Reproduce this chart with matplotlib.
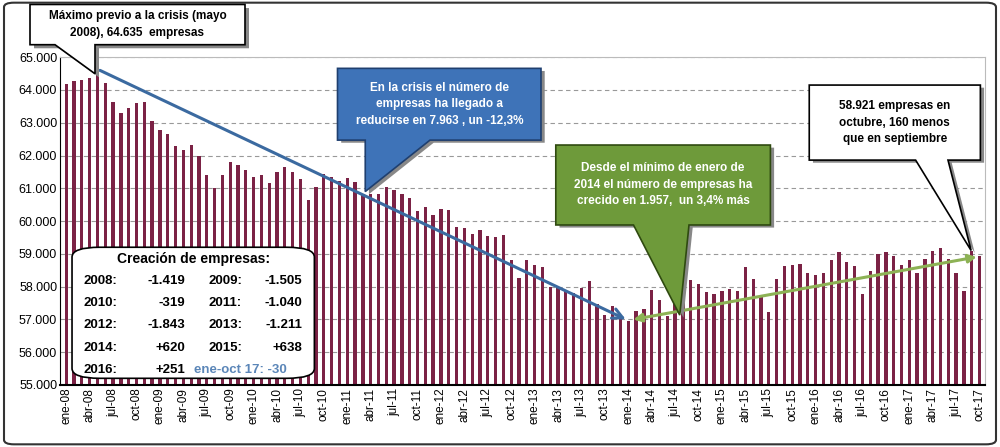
import matplotlib
matplotlib.use("Agg")
import matplotlib.pyplot as plt
from matplotlib.patches import Polygon, FancyBboxPatch
import numpy as np

plt.rcParams["font.family"] = "Liberation Sans"

months = ["ene","feb","mar","abr","may","jun","jul","ago","sep","oct","nov","dic"]
years = list(range(2008, 2018))
labels = [f"{m}-{str(y)[2:]}" for y in years for m in months][:118]

v2008 = [64180,64280,64290,64380,64635,64200,63620,63300,63460,63590,63620,63060]
v2009 = [62790,62660,62290,62180,62330,61990,61390,61010,61400,61800,61720,61555]
v2010 = [61340,61390,61150,61490,61640,61490,61280,60640,61050,61440,61340,61236]
v2011 = [61300,61180,60840,60830,60820,61050,60960,60840,60710,60300,60440,60196]
v2012 = [60380,60330,59830,59790,59610,59730,59540,59500,59560,58800,58250,58800]
v2013 = [58650,58600,57990,57950,57900,57800,57950,58180,57470,57140,57400,57142]
v2014 = [56964,57240,57330,57890,57580,57090,57780,57870,58210,58070,57820,57762]
v2015 = [57880,57930,57870,58590,58240,57680,57210,58240,58620,58660,58700,58400]
v2016 = [58340,58400,58820,59060,58740,58620,57770,58470,59000,59040,58920,58651]
v2017 = [58820,58420,58830,59100,59180,58850,58420,57860,59081,58921]
values = v2008+v2009+v2010+v2011+v2012+v2013+v2014+v2015+v2016+v2017

fig = plt.figure(figsize=(10,4.47), dpi=100)
ax = fig.add_axes([0.06,0.139,0.925,0.733])
x = np.arange(len(values))
ax.bar(x, values, width=0.42, color="#7B2245", zorder=2)
ax.set_ylim(55000,65000)
ax.set_xlim(-0.8, len(values)-0.3)
ax.set_yticks(range(55000,65001,1000))
ax.set_yticklabels([f"{t//1000}.000" for t in range(55000,65001,1000)], fontsize=9)
ax.set_xticks(x[::3])
ax.set_xticklabels(labels[::3], rotation=90, fontsize=8.5)
ax.yaxis.grid(True, linestyle=(0,(4,3)), color="#999999", lw=0.8, zorder=0)
for s in ["top","right"]:
    ax.spines[s].set_color("#bbbbbb")
ax.spines["bottom"].set_linewidth(1.5)
ax.tick_params(length=0, pad=2)

ax.annotate("", xy=(72,56964), xytext=(4,64635),
            arrowprops=dict(arrowstyle="->", color="#3B6AA0", lw=2.2, mutation_scale=18), zorder=5)
ax.annotate("", xy=(117,58921), xytext=(72.3,56980),
            arrowprops=dict(arrowstyle="<|-|>", color="#8DB255", lw=2.2, mutation_scale=12), zorder=5)

def callout(x0,x1,y0,y1,a,b,tip,fc,ec,text,tc,trans,fs=8.5):
    verts=[(x0,y1),(x1,y1),(x1,y0),(b,y0),tip,(a,y0),(x0,y0)]
    sh=[(vx+0.004,vy-0.008) for vx,vy in verts]
    fig.add_artist(Polygon(sh, closed=True, fc="#888888", ec="none", transform=trans, zorder=6, clip_on=False))
    fig.add_artist(Polygon(verts, closed=True, fc=fc, ec=ec, lw=1.2, transform=trans, zorder=7, clip_on=False))
    fig.text((x0+x1)/2,(y0+y1)/2,text,ha="center",va="center",color=tc,fontsize=fs,
             fontweight="bold",transform=trans,zorder=8,linespacing=1.5)

T = ax.transAxes
callout(0.30,0.52,0.747,0.966,0.33,0.40,(0.33,0.59),"#3E73B8","#1F3F6F",
        "En la crisis el número de\nempresas ha llegado a\nreducirse en 7.963 , un -12,3%","white",T)
callout(0.536,0.768,0.488,0.732,0.62,0.68,(0.67,0.213),"#6E9A3A","#2F4A10",
        "Desde el mínimo de enero de\n2014 el número de empresas ha\ncrecido en 1.957,  un 3,4% más","white",T)
callout(0.81,0.995,0.686,0.915,0.925,0.96,(0.985,0.41),"white","black",
        "58.921 empresas en\noctubre, 160 menos\nque en septiembre","black",T)
F = fig.transFigure
callout(0.03,0.245,0.90,0.99,0.055,0.095,(0.095,0.835),"white","black",
        "Máximo previo a la crisis (mayo\n2008), 64.635  empresas","black",F)

box = FancyBboxPatch((0.013,0.02),0.262,0.40, boxstyle="round,pad=0,rounding_size=0.03",
                     fc="white", ec="black", lw=1.2, transform=T, zorder=7)
ax.add_patch(box)
ax.text(0.144,0.385,"Creación de empresas:",transform=T,ha="center",va="center",fontsize=10,fontweight="bold",zorder=8)
rows = [("2008:","-1.419","2009:","-1.505"),("2010:","-319","2011:","-1.040"),
        ("2012:","-1.843","2013:","-1.211"),("2014:","+620","2015:","+638")]
fs = 9.5
for i,(a,b,c,d) in enumerate(rows):
    yy = 0.318 - i*0.068
    ax.text(0.025,yy,a,transform=T,va="center",fontsize=fs,fontweight="bold",zorder=8)
    ax.text(0.135,yy,b,transform=T,va="center",ha="right",fontsize=fs,fontweight="bold",zorder=8)
    ax.text(0.16,yy,c,transform=T,va="center",fontsize=fs,fontweight="bold",zorder=8)
    ax.text(0.262,yy,d,transform=T,va="center",ha="right",fontsize=fs,fontweight="bold",zorder=8)
yy = 0.318-4*0.068
ax.text(0.025,yy,"2016:",transform=T,va="center",fontsize=fs,fontweight="bold",zorder=8)
ax.text(0.135,yy,"+251",transform=T,va="center",ha="right",fontsize=fs,fontweight="bold",zorder=8)
ax.text(0.145,yy,"ene-oct 17: -30",transform=T,va="center",fontsize=fs,fontweight="bold",color="#5B86B8",zorder=8)

fig.add_artist(FancyBboxPatch((0.004,0.006),0.992,0.988,boxstyle="round,pad=0,rounding_size=0.01",
               fc="none",ec="#333333",lw=1.5,transform=F))
fig.savefig("out.png", dpi=100)
